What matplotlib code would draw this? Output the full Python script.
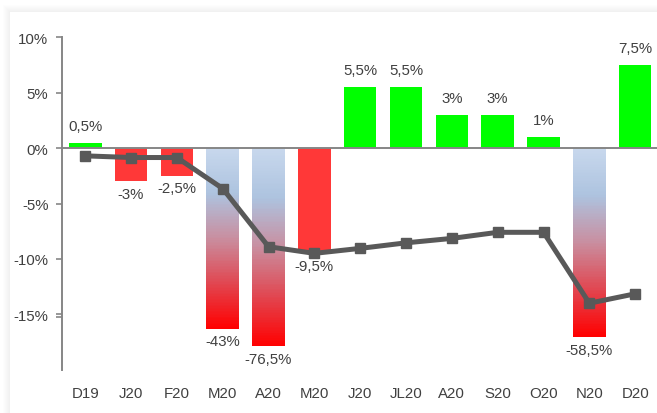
import numpy as np
import matplotlib
matplotlib.use("Agg")
import matplotlib.pyplot as plt
from matplotlib.colors import LinearSegmentedColormap
from matplotlib.patches import Rectangle
from matplotlib.ticker import FixedLocator, FuncFormatter

# dane miesięczne (%)
miesiace = ["D19", "J20", "F20", "M20", "A20", "M20", "J20", "JL20", "A20", "S20", "O20", "N20", "D20"]
zmiana = [0.5, -3, -2.5, -43, -76.5, -9.5, 5.5, 5.5, 3, 3, 1, -58.5, 7.5]
linia = [-0.7, -0.85, -0.85, -3.65, -8.9, -9.5, -9.05, -8.55, -8.15, -7.6, -7.6, -14.0, -13.15]

# oś Y ściśnięta poniżej -15%, żeby duże spadki mieściły się na wykresie
PROG = -15.0
SCISK = 0.047


def w_przod(v):
    v = np.asarray(v, dtype=float)
    return np.where(v < PROG, PROG + (v - PROG) * SCISK, v)


def w_tyl(y):
    y = np.asarray(y, dtype=float)
    return np.where(y < PROG, PROG + (y - PROG) / SCISK, y)


W, H = 657, 414
plt.rcParams["font.family"] = ["Liberation Sans", "DejaVu Sans"]
KOLOR_TEKST = "#404040"
KOLOR_OS = "#868686"

fig = plt.figure(figsize=(W / 100, H / 100), dpi=100)
fig.patch.set_facecolor("white")

# delikatny cień wokół obszaru wykresu
for k in range(7, 0, -1):
    fig.patches.append(Rectangle(((10 - k) / W, -0.1), 1.2, 1.1 - (13 - k) / H,
                                 transform=fig.transFigure, facecolor="black",
                                 alpha=0.008, edgecolor="none", zorder=-10))
fig.patches.append(Rectangle((10 / W, -0.1), 1.2, 1.1 - 13 / H, transform=fig.transFigure,
                             facecolor="white", edgecolor="none", zorder=-9))

ax = fig.add_axes([62.3 / W, 1 - 370.7 / H, 595.8 / W, (370.7 - 38.3) / H])
ax.set_facecolor("none")
ax.set_yscale("function", functions=(w_przod, w_tyl))
ax.set_xlim(-0.5, len(miesiace) - 0.5)
ax.set_ylim(float(w_tyl(-20)), 10)

x = np.arange(len(miesiace))
szer = 0.711
gradient = LinearSegmentedColormap.from_list(
    "spadek", [(0, "#c8d8ed"), (0.25, "#adc3df"), (0.5, "#c98e9f"), (0.75, "#e14650"), (1, "#ff0000")])

for i, v in enumerate(zmiana):
    if v >= 0:
        ax.bar(i, v, width=szer, color="#00ff00", zorder=2)
    elif v >= PROG:
        ax.bar(i, v, width=szer, color="#ff3838", zorder=2)
    else:
        # słupek z gradientem, pasy równej wysokości na ekranie
        n = 120
        granice = w_tyl(np.linspace(0, float(w_przod(v)), n + 1))
        for j in range(n):
            ax.bar(i, granice[j + 1] - granice[j], bottom=granice[j], width=szer,
                   color=gradient((j + 0.5) / n), linewidth=0, zorder=2)

# etykiety wartości
for i, v in enumerate(zmiana):
    tekst = f"{v:g}".replace(".", ",") + "%"
    dy = 7 if v >= 0 else -4
    ax.annotate(tekst, (i, v), xytext=(0, dy), textcoords="offset points",
                ha="center", va="bottom" if v >= 0 else "top",
                fontsize=10.8, color=KOLOR_TEKST, zorder=5)

ax.axhline(0, color=KOLOR_OS, linewidth=1.4, zorder=3)
ax.plot(x, linia, color="#595959", linewidth=3.6, marker="s", markersize=7.5,
        solid_joinstyle="miter", zorder=4)

for s in ["top", "right", "bottom"]:
    ax.spines[s].set_visible(False)
ax.spines["left"].set_color(KOLOR_OS)
ax.spines["left"].set_linewidth(1.4)

ax.yaxis.set_major_locator(FixedLocator([-15, -10, -5, 0, 5, 10]))
ax.yaxis.set_major_formatter(FuncFormatter(lambda v, p: f"{v:.0f}%"))
ax.yaxis.set_minor_locator(FixedLocator([-20]))
ax.tick_params(axis="y", which="both", direction="out", length=4, width=1.2,
               color=KOLOR_OS, labelcolor=KOLOR_TEKST, labelsize=10.8, pad=6)
ax.set_xticks(x)
ax.set_xticklabels(miesiace)
ax.tick_params(axis="x", length=0, pad=12, labelcolor=KOLOR_TEKST, labelsize=10.8)

fig.savefig("out.png", dpi=100, facecolor="white")
